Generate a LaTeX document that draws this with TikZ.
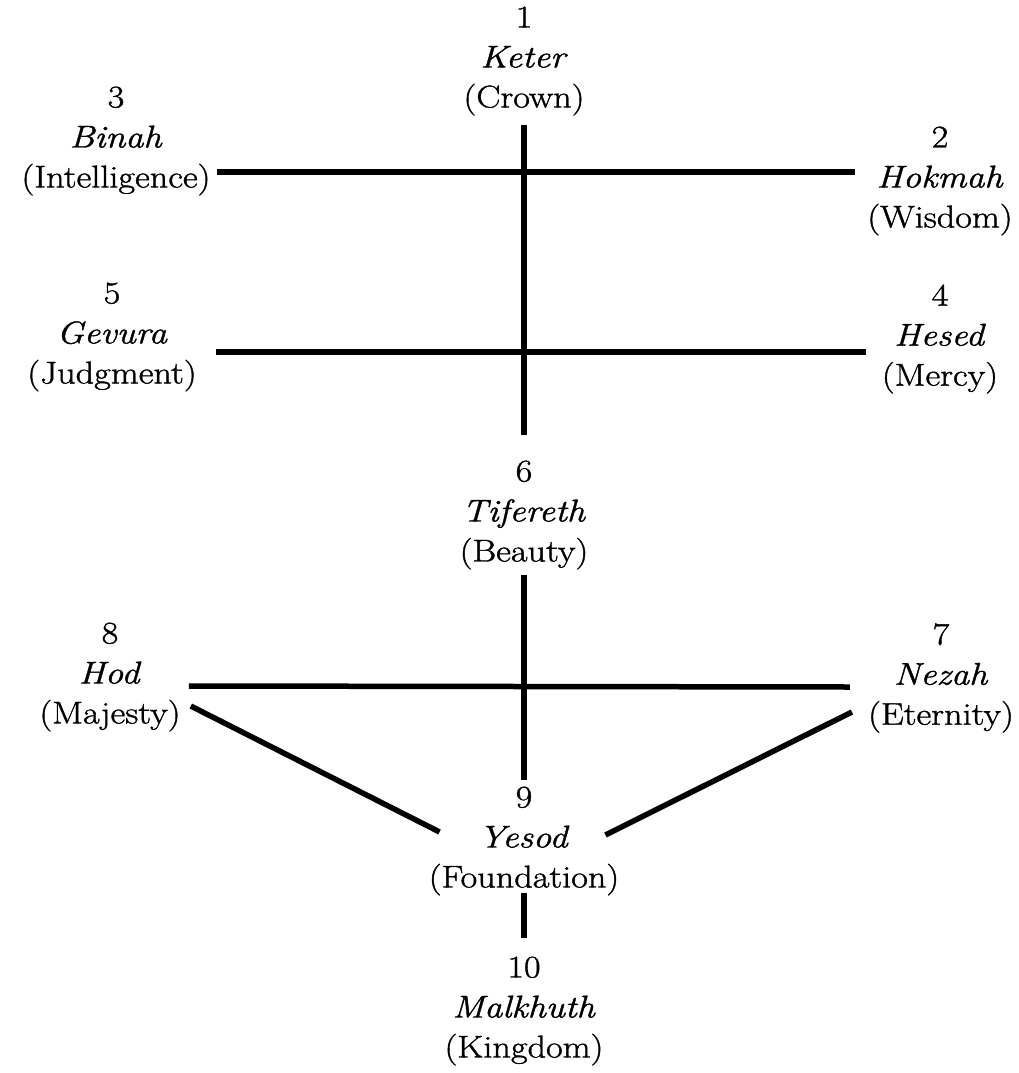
\documentclass[tikz,border=0pt]{standalone}
\usepackage{fontspec}
\setmainfont{Latin Modern Roman}[FakeStretch=1.15,FakeBold=1.2]
\usetikzlibrary{calc}
\begin{document}
\begin{tikzpicture}[x=1pt,y=-1pt,
  sef/.style={align=center,inner sep=0pt,font=\fontsize{31.5}{40}\selectfont},
  conn/.style={line width=5.5pt}]
\useasboundingbox[fill=white] (0,0) rectangle (1019,1073);
\node[sef] (s1) at (524,61) {1\\\textit{Keter}\\(Crown)};
\node[sef] (s2) at (940,181) {2\\\textit{Hokmah}\\(Wisdom)};
\node[sef] (s3) at (116,141) {3\\\textit{Binah}\\(Intelligence)};
\node[sef] (s4) at (940,339) {4\\\textit{Hesed}\\(Mercy)};
\node[sef] (s5) at (112,337) {5\\\textit{Gevura}\\(Judgment)};
\node[sef] (s6) at (524,515) {6\\\textit{Tifereth}\\(Beauty)};
\node[sef] (s7) at (941,678) {7\\\textit{Nezah}\\(Eternity)};
\node[sef] (s8) at (110,677) {8\\\textit{Hod}\\(Majesty)};
\node[sef] (s9) at (524,841) {9\\\textit{Yesod}\\(Foundation)};
\node[sef] (s10) at (524,1011) {10\\\textit{Malkhuth}\\(Kingdom)};
% middle pillar
\draw[conn] (s1.south |- 0,125) -- (s6.north |- 0,435);
\draw[conn] (s6.south |- 0,575) -- (s9.north |- 0,780);
\draw[conn] (s9.south |- 0,893) -- (s10.north |- 0,938);
% horizontal paths
\draw[conn] ($(s3.east |- 0,172)+(6,0)$) -- ($(s2.west |- 0,172)+(-12,0)$);
\draw[conn] ($(s5.east |- 0,352)+(19,0)$) -- ($(s4.west |- 0,352)+(-16,0)$);
\draw[conn] ($(s8.east |- 0,686)+(8,0)$) -- ($(s7.west |- 0,687)+(-18,0)$);
% diagonals to Yesod
\draw[conn] ($(s8.east |- 0,706)+(10,0)$) -- ($(s9.west |- 0,832)+(11,0)$);
\draw[conn] ($(s7.west |- 0,712)+(-16,0)$) -- ($(s9.east |- 0,835)+(-14,0)$);
\end{tikzpicture}
\end{document}
